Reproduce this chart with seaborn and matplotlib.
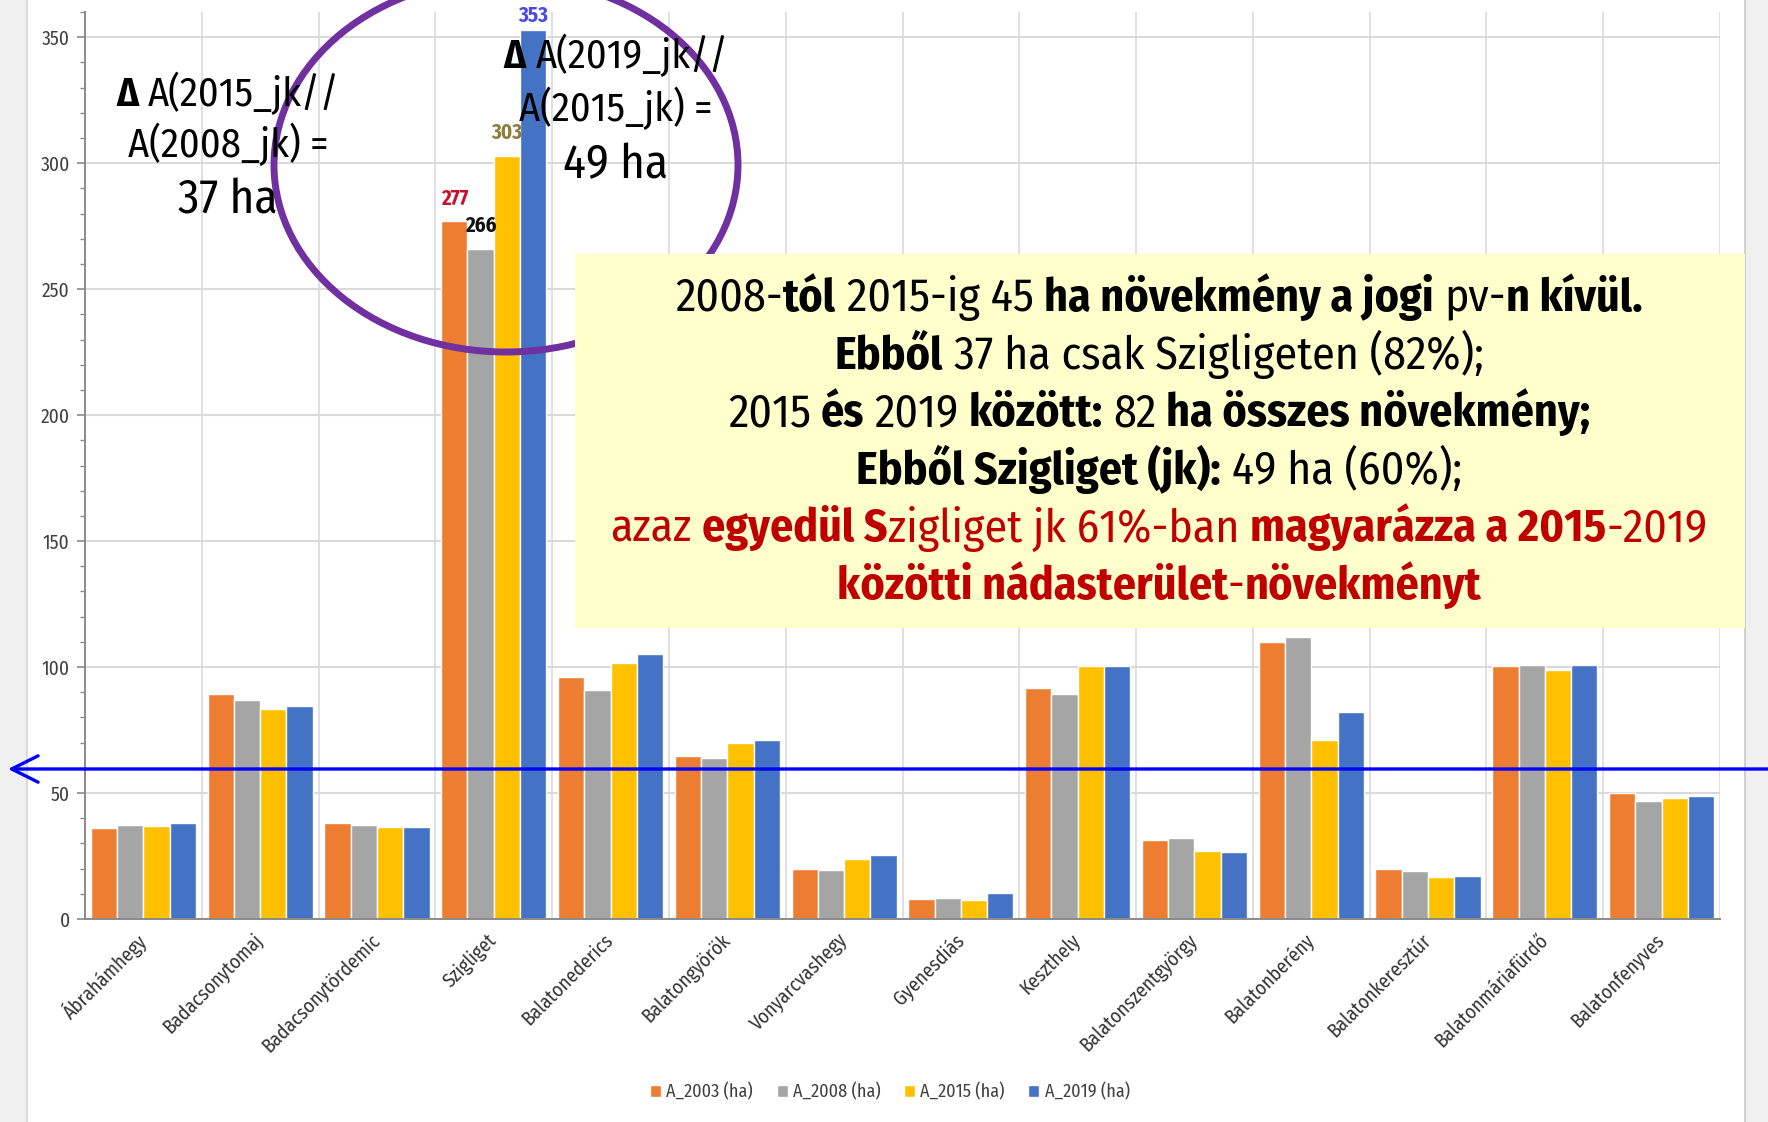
import numpy as np
import pandas as pd
import matplotlib
matplotlib.use('Agg')
import matplotlib.pyplot as plt
import seaborn as sns
from matplotlib.patches import Ellipse, Rectangle, FancyArrowPatch
from matplotlib.lines import Line2D

# data (ha)
cats = ['Ábrahámhegy', 'Badacsonytomaj', 'Badacsonytördemic', 'Szigliget',
        'Balatonederics', 'Balatongyörök', 'Vonyarcvashegy', 'Gyenesdiás',
        'Keszthely', 'Balatonszentgyörgy', 'Balatonberény', 'Balatonkeresztúr',
        'Balatonmáriafürdő', 'Balatonfenyves']
a2003 = [36, 89.5, 38, 277, 96, 64.5, 20, 8, 91.5, 31.5, 110, 20, 100.5, 50]
a2008 = [37.5, 87, 37.5, 266, 91, 64, 19.5, 8.5, 89.5, 32, 112, 19, 101, 47]
a2015 = [37, 83.5, 36.5, 303, 101.5, 70, 24, 7.5, 100.5, 27, 71, 16.5, 99, 48]
a2019 = [38, 84.5, 36.5, 353, 105, 71, 25.5, 10.5, 100.5, 26.5, 82, 17, 101, 49]
series = ['A_2003 (ha)', 'A_2008 (ha)', 'A_2015 (ha)', 'A_2019 (ha)']
colors = ['#ED7D31', '#A5A5A5', '#FFC000', '#4472C4']
label_colors = ['#C8102E', '#111111', '#8C7D3A', '#4B4BE0']
highlight = 'Szigliget'

sns.set_theme(style='white')
plt.rcParams['font.family'] = ['Fira Sans Condensed', 'DejaVu Sans']

W, H = 1768, 1122
fig = plt.figure(figsize=(W / 100, H / 100), dpi=100)
fig.patch.set_facecolor('white')
ax = fig.add_axes([85 / W, 1 - 919 / H, 1635 / W, 907 / H])

vals = [a2003, a2008, a2015, a2019]
df = pd.DataFrame({
    'telepules': cats * 4,
    'ev': [s for s in series for _ in cats],
    'ha': a2003 + a2008 + a2015 + a2019,
})
sns.barplot(data=df, x='telepules', y='ha', hue='ev', hue_order=series,
            palette=colors, saturation=1, width=0.9, edgecolor='white',
            linewidth=1, ax=ax, zorder=2)

ax.set_xlim(-0.5, 13.5)
ax.set_ylim(0, 360)
ax.set_yticks(range(0, 351, 50))
ax.set_yticks(range(0, 361, 10), minor=True)
ax.grid(axis='y', which='major', color='#D9D9D9', lw=1.5)
ax.set_axisbelow(True)
for x in np.arange(0.5, 14, 1):
    ax.axvline(x, color='#DADADA', lw=1.2, zorder=0)
for s in ['top', 'right']:
    ax.spines[s].set_visible(False)
for s in ['left', 'bottom']:
    ax.spines[s].set_color('#8A8A8A')
    ax.spines[s].set_linewidth(1.4)
ax.tick_params(axis='y', which='major', left=True, length=6, width=1.2,
               color='#8A8A8A', labelsize=14, labelcolor='#404040', pad=5)
ax.tick_params(axis='y', which='minor', left=True, length=3.5, width=1,
               color='#8A8A8A')
ax.tick_params(axis='x', length=0, pad=13, labelsize=14, labelcolor='#333333')
plt.setp(ax.get_xticklabels(), rotation=45, ha='right', va='center',
         rotation_mode='anchor')
ax.set_xlabel('')
ax.set_ylabel('')

# value labels on the Szigliget group
i = cats.index(highlight)
for k in range(4):
    ax.text(i + (k - 1.5) * 0.225, min(vals[k][i] + 9, 358.5), f'{vals[k][i]:.0f}',
            ha='center', va='center', fontsize=15, fontweight='bold',
            color=label_colors[k], zorder=5)

handles, labels = ax.get_legend_handles_labels()
ax.get_legend().remove()
fig.legend(handles, labels, loc='center', bbox_to_anchor=(890 / W, 1 - 1092 / H),
           ncol=4, frameon=False, handlelength=0.6, handleheight=0.6,
           handletextpad=0.3, columnspacing=1.3, fontsize=13, labelcolor='#404040')

# grey side strips of the slide
fig.add_artist(Rectangle((0, 0), 27 / W, 1, transform=fig.transFigure,
                         facecolor='#F0F0F0', edgecolor='none', zorder=-1))
fig.add_artist(Rectangle((1745 / W, 0), 23 / W, 1, transform=fig.transFigure,
                         facecolor='#F0F0F0', edgecolor='none', zorder=-1))
fig.add_artist(Line2D([27 / W, 27 / W], [0, 1], transform=fig.transFigure,
                      color='#D4D4D4', lw=1.2, zorder=-1))
fig.add_artist(Line2D([1745 / W, 1745 / W], [0, 1], transform=fig.transFigure,
                      color='#C8C8C8', lw=1.2, zorder=-1))

# purple ellipse, yellow box, blue arrow
fig.add_artist(Ellipse((506 / W, 1 - 165 / H), 2 * 232 / W, 2 * 187 / H,
                       transform=fig.transFigure, fill=False,
                       edgecolor='#7030A0', lw=5, zorder=3))
fig.add_artist(Rectangle((575 / W, 1 - 628 / H), 1170 / W, 374 / H,
                         transform=fig.transFigure, facecolor='#FFFFCC',
                         edgecolor='none', zorder=4))
fig.add_artist(FancyArrowPatch((1.0, 1 - 769 / H), (8 / W, 1 - 769 / H),
                               transform=fig.transFigure,
                               arrowstyle='->,head_length=0.5,head_width=0.25',
                               mutation_scale=38, lw=2.4, color='#0000FF',
                               shrinkA=0, shrinkB=0, zorder=7))

renderer = fig.canvas.get_renderer()


def seg_width(s, size, weight):
    t = fig.text(0, 0, s, fontsize=size, fontweight=weight)
    w = t.get_window_extent(renderer).width
    t.remove()
    return w


def rich(cx, base_y, segs, size):
    parts = []
    for s, bold, col in segs:
        wt = 'bold' if bold else 'normal'
        core = s.strip(' ')
        lead = len(s) - len(s.lstrip(' '))
        trail = len(s) - len(s.rstrip(' '))
        sp = seg_width('a a', size, wt) - seg_width('aa', size, wt)
        parts.append((core, wt, col, lead * sp, seg_width(core, size, wt), trail * sp))
    total = sum(p[3] + p[4] + p[5] for p in parts)
    x = cx - total / 2
    for core, wt, col, a, b, c in parts:
        x += a
        fig.text(x / W, 1 - base_y / H, core, fontsize=size, fontweight=wt,
                 color=col, ha='left', va='baseline', zorder=6)
        x += b + c


K = '#000000'
R = '#C00000'
rich(228, 106, [('Δ', True, K), (' A(2015_jk//', False, K)], 29)
rich(228, 157, [('A(2008_jk) =', False, K)], 29)
rich(228, 214, [('37 ha', False, K)], 34)
rich(616, 68, [('Δ', True, K), (' A(2019_jk//', False, K)], 29)
rich(616, 121, [('A(2015_jk) =', False, K)], 29)
rich(616, 178, [('49 ha', False, K)], 34)

box = [
    [('2008-', False, K), ('tól', True, K), (' 2015-ig 45 ', False, K),
     ('ha növekmény a jogi', True, K), (' pv-', False, K), ('n kívül.', True, K)],
    [('Ebből', True, K), (' 37 ha csak Szigligeten (82%);', False, K)],
    [('2015', False, K), (' és', True, K), (' 2019', False, K), (' között:', True, K),
     (' 82', False, K), (' ha összes növekmény;', True, K)],
    [('Ebből Szigliget (jk):', True, K), (' 49 ha (60%);', False, K)],
    [('azaz ', False, R), ('egyedül S', True, R), ('zigliget jk 61%-ban ', False, R),
     ('magyarázza a 2015', True, R), ('-2019', False, R)],
    [('közötti nádasterület', True, R), ('-', False, R), ('növekményt', True, R)],
]
for j, line in enumerate(box):
    rich(1159, 311 + j * 57.6, line, 33)

fig.savefig('out.png', dpi=100)
